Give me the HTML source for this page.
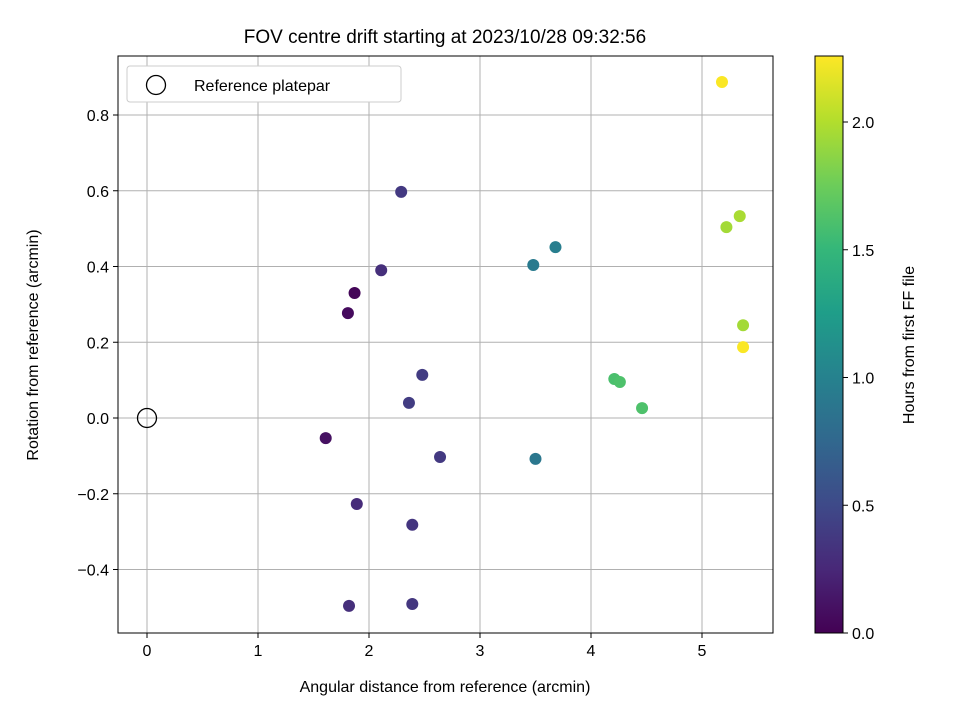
<!DOCTYPE html>
<html><head><meta charset="utf-8">
<style>
body{margin:0;background:#fff;}
svg text{font-family:"Liberation Sans",sans-serif;fill:#000;}
</style></head>
<body>
<svg id="chart" width="960" height="720" xmlns="http://www.w3.org/2000/svg">
<rect width="960" height="720" fill="#fff"/>
<text x="445" y="43" font-size="19" text-anchor="middle">FOV centre drift starting at 2023/10/28 09:32:56</text>
<g id="grid"></g>
<g id="ticks"></g>
<g id="points"></g>
<rect x="118" y="56" width="655" height="577" fill="none" stroke="#000" stroke-width="1"/>
<text x="445" y="692" font-size="16" text-anchor="middle">Angular distance from reference (arcmin)</text>
<text transform="translate(38,345) rotate(-90)" font-size="16" text-anchor="middle">Rotation from reference (arcmin)</text>
<g>
<rect x="127" y="66" width="274" height="36" rx="3" fill="#fff" stroke="#ccc"/>
<circle cx="156" cy="85" r="9.5" fill="none" stroke="#000" stroke-width="1.3"/>
<text x="194" y="91" font-size="16">Reference platepar</text>
</g>
<defs><linearGradient id="vir" x1="0" y1="1" x2="0" y2="0"></linearGradient></defs>
<rect x="815" y="56" width="28" height="577" fill="url(#vir)" stroke="#000"/>
<g id="cticks"></g>
<text transform="translate(914,345) rotate(-90)" font-size="16" text-anchor="middle">Hours from first FF file</text>
</svg>
<script>
const xTicks=[0,1,2,3,4,5];
const yTicks=[-0.4,-0.2,0.0,0.2,0.4,0.6,0.8];
const cTicks=[0.0,0.5,1.0,1.5,2.0];
const xVals=[2.29,3.68,3.48,2.11,1.87,1.81,5.18,5.22,5.34,5.37,5.37,2.48,2.36,4.21,4.26,4.46,1.61,2.64,3.50,1.89,2.39,1.82,2.39];
const yVals=[0.597,0.451,0.404,0.39,0.33,0.277,0.887,0.504,0.533,0.245,0.187,0.114,0.04,0.103,0.095,0.026,-0.053,-0.103,-0.108,-0.227,-0.282,-0.496,-0.491];
const hours=[0.38,0.97,0.93,0.3,0.03,0.06,2.25,1.95,1.97,1.95,2.25,0.4,0.4,1.6,1.62,1.62,0.1,0.38,0.9,0.28,0.35,0.3,0.36];
const NS="http://www.w3.org/2000/svg";
const sx=v=>147+v*111, sy=v=>418-v*378.75, sc=v=>633-v*255.5;
const vir=[[68,1,84],[72,40,120],[62,74,137],[49,104,142],[38,130,142],[31,158,137],[53,183,121],[109,205,89],[180,222,44],[253,231,37]];
function col(t){t=Math.max(0,Math.min(1,t));const f=t*9,i=Math.min(8,Math.floor(f)),r=f-i;const c=vir[i].map((a,k)=>Math.round(a+(vir[i+1][k]-a)*r));return `rgb(${c})`;}
function mk(tag,attrs,parent){const e=document.createElementNS(NS,tag);for(const k in attrs)e.setAttribute(k,attrs[k]);document.getElementById(parent).appendChild(e);return e;}
const g=document.getElementById('vir');
vir.forEach((c,i)=>{const s=document.createElementNS(NS,'stop');s.setAttribute('offset',i/9);s.setAttribute('stop-color',`rgb(${c})`);g.appendChild(s);});
xTicks.forEach(v=>{const x=sx(v);
 const l=mk('line',{x1:x,x2:x,y1:56,y2:633,stroke:'#b0b0b0','stroke-width':1},'grid');
 
 
 mk('line',{x1:x,x2:x,y1:633,y2:638,stroke:'#000'},'ticks');
 const t=mk('text',{x:x,y:656,'font-size':16,'text-anchor':'middle'},'ticks');t.textContent=v;
 
 });
yTicks.forEach(v=>{const y=sy(v);
 const l=mk('line',{x1:118,x2:773,y1:y,y2:y,stroke:'#b0b0b0','stroke-width':1},'grid');
 
 
 mk('line',{x1:113,x2:118,y1:y,y2:y,stroke:'#000'},'ticks');
 const t=mk('text',{x:109,y:y+6,'font-size':16,'text-anchor':'end'},'ticks');t.textContent=(v<0?'\u2212':'')+Math.abs(v).toFixed(1);
 
 });
cTicks.forEach(v=>{const y=sc(v);
 mk('line',{x1:843,x2:848,y1:y,y2:y,stroke:'#000'},'cticks');
 const t=mk('text',{x:852,y:y+6,'font-size':16},'cticks');t.textContent=v.toFixed(1);
 
 });
const ref=mk('circle',{cx:sx(0),cy:sy(0),r:9.5,fill:'none',stroke:'#000','stroke-width':1.3},'points');


xVals.forEach((v,i)=>{const c=mk('circle',{cx:sx(v),cy:sy(yVals[i]),r:6,fill:col(hours[i]/2.26)},'points');
 
 });
</script>
</body></html>
